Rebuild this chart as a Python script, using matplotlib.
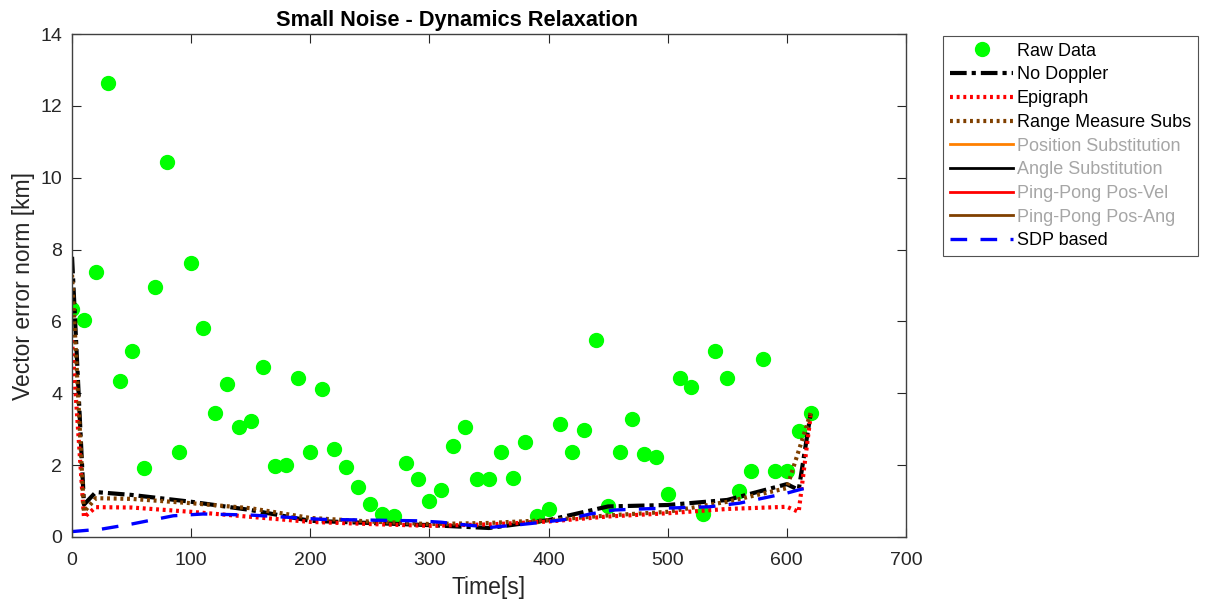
import matplotlib
matplotlib.use('Agg')
import matplotlib.pyplot as plt
import numpy as np

plt.rcParams['font.family'] = ['Liberation Sans', 'DejaVu Sans']

# raw measurements, one every 10 s
raw_t = list(range(0, 630, 10))
raw_err = [6.36, 6.05, 7.39, 12.63, 4.35, 5.19, 1.92, 6.97, 10.43, 2.37,
           7.64, 5.83, 3.46, 4.27, 3.07, 3.23, 4.74, 1.98, 2.01, 4.43,
           2.37, 4.13, 2.45, 1.95, 1.39, 0.92, 0.64, 0.59, 2.06, 1.62,
           1.00, 1.31, 2.54, 3.07, 1.62, 1.62, 2.37, 1.65, 2.65, 0.59,
           0.78, 3.15, 2.37, 2.98, 5.47, 0.86, 2.37, 3.29, 2.31, 2.23,
           1.20, 4.43, 4.18, 0.64, 5.19, 4.43, 1.28, 1.84, 4.96, 1.84,
           1.84, 2.96, 3.46]

# estimator outputs
est_t = [0, 10, 20, 50, 100, 150, 200, 250, 300, 350, 400, 450, 500, 550, 600, 610, 620]
no_doppler = [7.80, 0.90, 1.25, 1.17, 0.98, 0.75, 0.45, 0.39, 0.33, 0.25, 0.47, 0.85, 0.89, 1.03, 1.47, 1.31, 3.43]
epigraph = [5.48, 0.55, 0.83, 0.82, 0.70, 0.56, 0.42, 0.36, 0.31, 0.35, 0.43, 0.57, 0.66, 0.78, 0.84, 0.70, 3.37]
range_subs = [7.30, 0.70, 1.08, 1.06, 0.94, 0.80, 0.53, 0.43, 0.36, 0.39, 0.47, 0.60, 0.70, 0.98, 1.36, 2.40, 3.45]

sdp_t = [0, 25, 50, 85, 110, 150, 170, 195, 210, 250, 290, 310, 332, 352, 372, 395, 415, 435, 455, 470, 495, 515, 535, 560, 580, 600, 620]
sdp = [0.15, 0.22, 0.36, 0.59, 0.64, 0.61, 0.57, 0.52, 0.49, 0.47, 0.45, 0.41, 0.33, 0.27, 0.33, 0.41, 0.49, 0.64, 0.75, 0.77, 0.80, 0.82, 0.84, 0.94, 1.08, 1.22, 1.40]

fig = plt.figure(figsize=(12.15, 6.03), dpi=100)
ax = fig.add_axes([0.0593, 0.1095, 0.6863, 0.834])

ax.plot(raw_t, raw_err, 'o', color='#00ff00', markersize=10, label='Raw Data')
ax.plot(est_t, no_doppler, color='black', linestyle=(0, (4, 1.2, 1, 1.2)), linewidth=3, label='No Doppler')
ax.plot(est_t, epigraph, color='red', linestyle=(0, (0.7, 0.9)), linewidth=3, label='Epigraph')
ax.plot(est_t, range_subs, color='#804000', linestyle=(0, (0.7, 0.9)), linewidth=3, label='Range Measure Subs')
ax.plot([], [], color='#ff8000', linewidth=2, label='Position Substitution')
ax.plot([], [], color='black', linewidth=2, label='Angle Substitution')
ax.plot([], [], color='red', linewidth=2, label='Ping-Pong Pos-Vel')
ax.plot([], [], color='#804000', linewidth=2, label='Ping-Pong Pos-Ang')
ax.plot(sdp_t, sdp, color='blue', linestyle=(0, (5, 4)), linewidth=2.4, label='SDP based')

ax.set_xlim(0, 700)
ax.set_ylim(0, 14)
ax.set_xticks(range(0, 701, 100))
ax.set_yticks(range(0, 15, 2))
ax.tick_params(direction='in', length=6.5, width=0.8, top=True, right=True,
               labelsize=14, colors='#262626')
ax.tick_params(axis='x', pad=11)
ax.tick_params(axis='y', pad=7)
for s in ax.spines.values():
    s.set_color('#404040')
    s.set_linewidth(1.0)

ax.set_xlabel('Time[s]', fontsize=16.5, color='#262626', labelpad=5)
ax.set_ylabel('Vector error norm [km]', fontsize=16.5, color='#262626', labelpad=4)
ax.set_title('Small Noise - Dynamics Relaxation', fontsize=15.7, fontweight='bold',
             x=0.462, pad=6)

leg = ax.legend(loc='upper left', bbox_to_anchor=(0.776, 0.941), bbox_transform=fig.transFigure,
                fontsize=13, frameon=True, fancybox=False, edgecolor='#262626',
                handlelength=3.5, handletextpad=0.2, labelspacing=0.37, borderpad=0.4,
                borderaxespad=0, numpoints=1)
leg.get_frame().set_linewidth(0.8)
for i, txt in enumerate(leg.get_texts()):
    if 4 <= i <= 7:
        txt.set_color('#a6a6a6')

fig.savefig('out.png', dpi=100)
